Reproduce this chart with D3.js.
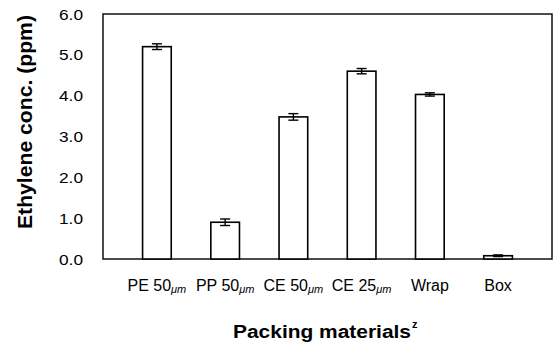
<!DOCTYPE html>
<html>
<head>
<meta charset="utf-8">
<script src="https://cdn.jsdelivr.net/npm/d3@7"></script>
<style>
body { margin: 0; background: #fff; }
text { font-family: "Liberation Sans", Arial, sans-serif; fill: #000; }
</style>
</head>
<body>
<div id="my_dataviz"></div>
<script>
// data
var materials = ["PE 50", "PP 50", "CE 50", "CE 25", "Wrap", "Box"];
var units = ["\u03bcm", "\u03bcm", "\u03bcm", "\u03bcm", "", ""];
var conc = [5.20, 0.90, 3.48, 4.60, 4.03, 0.08];
var errs = [0.07, 0.08, 0.08, 0.065, 0.04, 0.02];
var yTicks = [0, 1, 2, 3, 4, 5, 6];

var margin = {top: 14, right: 4, bottom: 84, left: 103},
    width = 556 - margin.left - margin.right,
    height = 343 - margin.top - margin.bottom;

var svg = d3.select("#my_dataviz")
    .append("svg")
    .attr("width", 556)
    .attr("height", 343)
    .append("g")
    .attr("transform", "translate(" + margin.left + "," + margin.top + ")");

var x = d3.scaleBand()
    .domain(materials)
    .range([0, width])
    .padding(0.58);

var y = d3.scaleLinear()
    .domain([0, 6])
    .range([height, 0]);

// frame
svg.append("rect")
    .attr("x", 0).attr("y", 0)
    .attr("width", width).attr("height", height)
    .attr("fill", "none")
    .attr("stroke", "#111")
    .attr("stroke-width", 1.5);

// y tick labels
svg.append("g")
    .selectAll("text")
    .data(yTicks)
    .enter()
    .append("text")
    .attr("x", -20)
    .attr("y", function(d) { return y(d); })
    .attr("dy", "0.36em")
    .attr("text-anchor", "end")
    .attr("textLength", 24)
    .attr("lengthAdjust", "spacingAndGlyphs")
    .style("font-size", "15.5px")
    .text(function(d) { return d3.format(".1f")(d); });

// bars
svg.append("g")
    .selectAll("rect")
    .data(materials)
    .enter()
    .append("rect")
    .attr("x", function(d) { return x(d); })
    .attr("y", function(d, i) { return y(conc[i]); })
    .attr("width", x.bandwidth())
    .attr("height", function(d, i) { return height - y(conc[i]); })
    .attr("fill", "#fff")
    .attr("stroke", "#000")
    .attr("stroke-width", 1.6);

// error bars
var eb = svg.append("g")
    .selectAll("g")
    .data(materials)
    .enter()
    .append("g")
    .attr("stroke", "#000")
    .attr("stroke-width", 1.4);
eb.append("line")
    .attr("x1", function(d) { return x(d) + x.bandwidth() / 2; })
    .attr("x2", function(d) { return x(d) + x.bandwidth() / 2; })
    .attr("y1", function(d, i) { return y(conc[i] + errs[i]); })
    .attr("y2", function(d, i) { return y(conc[i] - errs[i]); });
[1, -1].forEach(function(s) {
  eb.append("line")
    .attr("x1", function(d) { return x(d) + x.bandwidth() / 2 - 5; })
    .attr("x2", function(d) { return x(d) + x.bandwidth() / 2 + 5; })
    .attr("y1", function(d, i) { return y(conc[i] + s * errs[i]); })
    .attr("y2", function(d, i) { return y(conc[i] + s * errs[i]); });
});

// x tick labels
var xl = svg.append("g")
    .selectAll("text")
    .data(materials)
    .enter()
    .append("text")
    .attr("x", function(d) { return x(d) + x.bandwidth() / 2; })
    .attr("y", height + 32)
    .attr("text-anchor", "middle")
    .style("font-size", "16px");
xl.append("tspan").text(function(d) { return d; });
xl.append("tspan")
    .attr("dy", 2)
    .style("font-size", "11px")
    .style("font-style", "italic")
    .text(function(d, i) { return units[i]; });

// y axis title
svg.append("text")
    .attr("transform", "translate(" + (25 - margin.left) + "," + (122 - margin.top) + ") rotate(-90)")
    .attr("dy", "0.36em")
    .attr("text-anchor", "middle")
    .attr("textLength", 214)
    .attr("lengthAdjust", "spacingAndGlyphs")
    .style("font-size", "19.5px")
    .style("font-weight", "bold")
    .text("Ethylene conc. (ppm)");

// x axis title
svg.append("text")
    .attr("x", 233 - margin.left)
    .attr("y", 338 - margin.top)
    .attr("textLength", 178)
    .attr("lengthAdjust", "spacingAndGlyphs")
    .style("font-size", "18px")
    .style("font-weight", "bold")
    .text("Packing materials");
svg.append("text")
    .attr("x", 412 - margin.left)
    .attr("y", 328 - margin.top)
    .style("font-size", "11px")
    .style("font-weight", "bold")
    .text("z");
</script>
</body>
</html>
